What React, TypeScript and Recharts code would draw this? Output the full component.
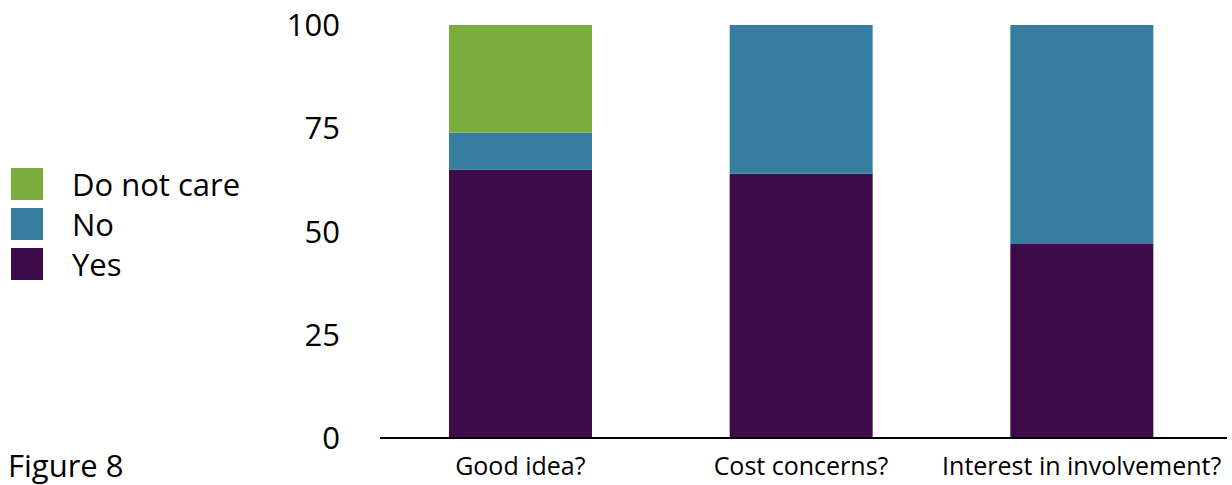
import { Bar, BarChart, XAxis, YAxis } from "recharts";

const categories = ["Good idea?", "Cost concerns?", "Interest in involvement?"];
const yesValues = [65, 64, 47];
const noValues = [9, 36, 53];
const dontCareValues = [26, 0, 0];
const yTicks = [0, 25, 50, 75, 100];

const COLORS = { yes: "#3D0C48", no: "#367EA0", dontCare: "#7BAD3C" };
const FONT = "'Open Sans', 'Noto Sans', sans-serif";

const rows = categories.map((c, i) => ({
  name: c,
  yes: yesValues[i],
  no: noValues[i],
  dontCare: dontCareValues[i],
}));

const legendItems = [
  { label: "Do not care", color: COLORS.dontCare },
  { label: "No", color: COLORS.no },
  { label: "Yes", color: COLORS.yes },
];

export default function App() {
  return (
    <div style={{ position: "absolute", left: 0, top: 0, width: 1232, height: 485, background: "#fff" }}>
      <BarChart
        width={1232}
        height={485}
        data={rows}
        margin={{ top: 25, right: 5, left: 300, bottom: 0 }}
        barCategoryGap={69}
      >
        <XAxis
          dataKey="name"
          axisLine={{ stroke: "#000", strokeWidth: 2 }}
          tickLine={false}
          tickSize={0}
          tickMargin={19}
          height={47}
          padding={{ left: 0, right: 5 }}
          tick={{ fontSize: 25, fill: "#000", fontFamily: FONT }}
          interval={0}
        />
        <YAxis
          domain={[0, 100]}
          ticks={yTicks}
          width={80}
          axisLine={false}
          tickLine={false}
          tickSize={0}
          tickMargin={40}
          tick={{ fontSize: 31, fill: "#000", fontFamily: FONT }}
        />
        <Bar dataKey="yes" stackId="a" fill={COLORS.yes} isAnimationActive={false} />
        <Bar dataKey="no" stackId="a" fill={COLORS.no} isAnimationActive={false} />
        <Bar dataKey="dontCare" stackId="a" fill={COLORS.dontCare} isAnimationActive={false} />
      </BarChart>
      <div style={{ position: "absolute", left: 11, top: 168, fontFamily: FONT }}>
        {legendItems.map((it) => (
          <div key={it.label} style={{ display: "flex", alignItems: "center", height: 32, marginBottom: 8 }}>
            <div style={{ width: 32, height: 32, background: it.color }} />
            <span style={{ marginLeft: 29, fontSize: 31, color: "#000", lineHeight: "32px", whiteSpace: "nowrap" }}>
              {it.label}
            </span>
          </div>
        ))}
      </div>
      <div style={{ position: "absolute", left: 8, top: 447, fontSize: 31, fontFamily: FONT, color: "#000", lineHeight: "36px" }}>
        Figure 8
      </div>
    </div>
  );
}
